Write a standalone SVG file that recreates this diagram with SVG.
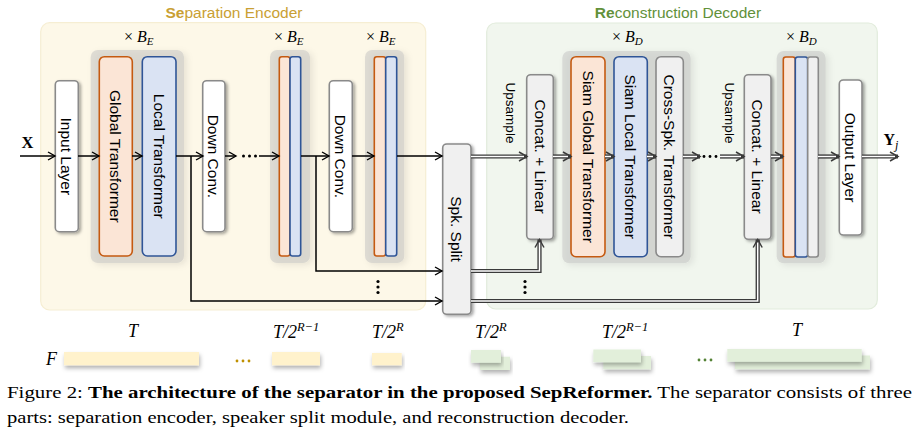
<svg xmlns="http://www.w3.org/2000/svg" width="919" height="440" viewBox="0 0 919 440">
<defs>
<style>
.lbl{font-family:"Liberation Sans",Arial,sans-serif;font-size:15.5px;fill:#000}
.ups{font-family:"Liberation Sans",Arial,sans-serif;font-size:13.5px;fill:#000}
.math{font-family:"Liberation Serif","Times New Roman",serif;font-style:italic;fill:#000}
.cap{font-family:"Liberation Serif","Times New Roman",serif;font-size:17px;fill:#000}
.wbox{fill:#fff;stroke:#8a8a8a;stroke-width:1.6}
.gbox{fill:#f0f0f0;stroke:#8a8a8a;stroke-width:1.6}
.obox{fill:#fbe5d6;stroke:#c55a11;stroke-width:1.6}
.bbox{fill:#dae3f3;stroke:#2f5597;stroke-width:1.6}
.blk{fill:#bdbdbd;fill-opacity:0.45}
.s{fill:none;stroke:#000;stroke-width:1.5}
.do{fill:none;stroke:#3a3a3a;stroke-width:4.2}
.di{fill:none;stroke:#fff;stroke-width:1.5}
.ebar{fill:#fff2cc}
.dbar{fill:#e2efda}
</style>
<filter id="sh" x="-40%" y="-10%" width="180%" height="130%"><feDropShadow dx="2" dy="1.5" stdDeviation="1.4" flood-color="#000" flood-opacity="0.35"/></filter>
<filter id="shg" x="-20%" y="-10%" width="140%" height="130%"><feDropShadow dx="3" dy="2" stdDeviation="3" flood-color="#000" flood-opacity="0.18"/></filter>
<filter id="shb" x="-10%" y="-40%" width="120%" height="220%"><feDropShadow dx="1" dy="3" stdDeviation="2" flood-color="#000" flood-opacity="0.3"/></filter>
<marker id="a1" markerUnits="userSpaceOnUse" markerWidth="12" markerHeight="12" refX="8" refY="5" orient="auto"><path d="M1,1 L8,5 L1,9" fill="none" stroke="#000" stroke-width="1.4"/></marker>
<marker id="a2" markerUnits="userSpaceOnUse" markerWidth="12" markerHeight="12" refX="9" refY="5.5" orient="auto"><path d="M1,1 L9,5.5 L1,10" fill="none" stroke="#3a3a3a" stroke-width="1.5"/></marker>
</defs>
<rect width="919" height="440" fill="#fff"/>

<!-- backgrounds -->
<g id="encoder-bg">
<rect x="40.7" y="22.7" width="385" height="287.3" rx="9" fill="#fdf8e8" stroke="#f6eed3" stroke-width="1.2"/>
<text x="234" y="18" text-anchor="middle" font-family="'Liberation Sans',Arial,sans-serif" font-size="15.5" fill="#c9a033"><tspan font-weight="bold">Se</tspan>paration Encoder</text>
</g>
<g id="decoder-bg">
<rect x="486.7" y="23" width="390.6" height="286" rx="9" fill="#f1f6ee" stroke="#e2ecdc" stroke-width="1.2"/>
<text x="678" y="18" text-anchor="middle" font-family="'Liberation Sans',Arial,sans-serif" font-size="15.5" fill="#62913a"><tspan font-weight="bold">Re</tspan>construction Decoder</text>
</g>

<!-- encoder nodes -->
<g id="input-layer"><rect class="wbox" filter="url(#sh)" x="55.3" y="80.7" width="23" height="151" rx="4"/><text class="lbl" transform="translate(66.8,156.3) rotate(90)" text-anchor="middle" dominant-baseline="central">Input Layer</text></g>

<g id="enc-block1">
<rect class="blk" filter="url(#shg)" x="90.7" y="50" width="93.3" height="213" rx="7"/>
<text x="124" y="42" class="math" font-size="16"><tspan font-style="normal">× </tspan>B<tspan font-size="11" dy="3">E</tspan></text>
<g id="global-transformer"><rect class="obox" x="99.3" y="56.7" width="33" height="199.3" rx="5"/><text class="lbl" transform="translate(115.8,156.3) rotate(90)" text-anchor="middle" dominant-baseline="central">Global Transformer</text></g>
<g id="local-transformer"><rect class="bbox" x="142.3" y="56.7" width="33.7" height="199.3" rx="5"/><text class="lbl" transform="translate(159.2,156.3) rotate(90)" text-anchor="middle" dominant-baseline="central">Local Transformer</text></g>
</g>

<g id="down-conv1"><rect class="wbox" filter="url(#sh)" x="202.7" y="80.7" width="22.3" height="151" rx="4"/><text class="lbl" transform="translate(213.9,156.3) rotate(90)" text-anchor="middle" dominant-baseline="central">Down Conv.</text></g>

<g id="enc-block2">
<rect class="blk" filter="url(#shg)" x="270" y="50" width="40" height="213" rx="7"/>
<text x="274" y="42" class="math" font-size="16"><tspan font-style="normal">× </tspan>B<tspan font-size="11" dy="3">E</tspan></text>
<rect class="obox" x="279.3" y="56.7" width="10.7" height="199.3" rx="2.5"/>
<rect class="bbox" x="290" y="56.7" width="10.7" height="199.3" rx="2.5"/>
</g>

<g id="down-conv2"><rect class="wbox" filter="url(#sh)" x="329.3" y="80.7" width="23" height="151" rx="4"/><text class="lbl" transform="translate(340.8,156.3) rotate(90)" text-anchor="middle" dominant-baseline="central">Down Conv.</text></g>

<g id="enc-block3">
<rect class="blk" filter="url(#shg)" x="365" y="50" width="39.3" height="213" rx="7"/>
<text x="366" y="42" class="math" font-size="16"><tspan font-style="normal">× </tspan>B<tspan font-size="11" dy="3">E</tspan></text>
<rect class="obox" x="374.3" y="56.7" width="11.4" height="199.3" rx="2.5"/>
<rect class="bbox" x="385.7" y="56.7" width="11" height="199.3" rx="2.5"/>
</g>

<g id="spk-split"><rect class="gbox" filter="url(#sh)" x="442.7" y="144" width="28.3" height="170.3" rx="4"/><text class="lbl" transform="translate(456.9,229) rotate(90)" text-anchor="middle" dominant-baseline="central">Spk. Split</text></g>

<!-- decoder nodes -->
<g id="concat1"><rect class="gbox" filter="url(#sh)" x="526.7" y="74.7" width="26.6" height="164.6" rx="4"/><text class="lbl" transform="translate(540,156.5) rotate(90)" text-anchor="middle" dominant-baseline="central">Concat. + Linear</text>
<text class="ups" transform="translate(510,113) rotate(90)" text-anchor="middle" dominant-baseline="central">Upsample</text></g>

<g id="dec-block1">
<rect class="blk" filter="url(#shg)" x="562.3" y="51" width="128.4" height="212.3" rx="7"/>
<text x="612" y="42" class="math" font-size="16"><tspan font-style="normal">× </tspan>B<tspan font-size="11" dy="3">D</tspan></text>
<g id="siam-global"><rect class="obox" x="571" y="56.7" width="34" height="200" rx="5"/><text class="lbl" transform="translate(588,156.7) rotate(90)" text-anchor="middle" dominant-baseline="central">Siam Global Transformer</text></g>
<g id="siam-local"><rect class="bbox" x="614" y="56.7" width="33.3" height="200" rx="5"/><text class="lbl" transform="translate(630.7,156.7) rotate(90)" text-anchor="middle" dominant-baseline="central">Siam Local Transformer</text></g>
<g id="cross-spk"><rect class="gbox" x="656" y="56.7" width="27.3" height="200" rx="5"/><text class="lbl" transform="translate(669.7,156.7) rotate(90)" text-anchor="middle" dominant-baseline="central">Cross-Spk. Transformer</text></g>
</g>

<g id="concat2"><rect class="gbox" filter="url(#sh)" x="744.3" y="74.7" width="26.7" height="164.6" rx="4"/><text class="lbl" transform="translate(757.7,156.5) rotate(90)" text-anchor="middle" dominant-baseline="central">Concat. + Linear</text>
<text class="ups" transform="translate(729,113) rotate(90)" text-anchor="middle" dominant-baseline="central">Upsample</text></g>

<g id="dec-block2">
<rect class="blk" filter="url(#shg)" x="776.7" y="51" width="49" height="212.3" rx="7"/>
<text x="786" y="42" class="math" font-size="16"><tspan font-style="normal">× </tspan>B<tspan font-size="11" dy="3">D</tspan></text>
<rect class="obox" x="783.3" y="57" width="12" height="200" rx="2.5"/>
<rect class="bbox" x="795.3" y="57" width="12.4" height="200" rx="2.5"/>
<rect class="gbox" x="807.7" y="57" width="10.6" height="200" rx="2.5"/>
</g>

<g id="output-layer"><rect class="wbox" filter="url(#sh)" x="839.3" y="80" width="22.7" height="155" rx="4"/><text class="lbl" transform="translate(850.7,157.5) rotate(90)" text-anchor="middle" dominant-baseline="central">Output Layer</text></g>

<!-- io labels -->
<text x="21.5" y="147.5" font-family="'Liberation Serif','Times New Roman',serif" font-weight="bold" font-size="16.5">X</text>
<text x="883.5" y="145" font-family="'Liberation Serif','Times New Roman',serif" font-weight="bold" font-size="16">Y<tspan font-weight="normal" font-style="italic" font-size="12" dy="4">j</tspan></text>

<!-- connectors -->
<g id="connectors">
<path class="s" marker-end="url(#a1)" d="M20,156 H55"/>
<path class="s" marker-end="url(#a1)" d="M78,156 H99"/>
<path class="s" marker-end="url(#a1)" d="M132,156 H142"/>
<path class="s" marker-end="url(#a1)" d="M176,156 H203"/>
<path class="s" marker-end="url(#a1)" d="M225,156 H236"/>
<path class="s" marker-end="url(#a1)" d="M259,156 H279"/>
<path class="s" marker-end="url(#a1)" d="M301,156 H329"/>
<path class="s" marker-end="url(#a1)" d="M352,156 H374"/>
<path class="s" marker-end="url(#a1)" d="M397,156 H442"/>
<path class="s" marker-end="url(#a1)" d="M191,156 V301 H442"/>
<path class="s" marker-end="url(#a1)" d="M316,156 V271 H442"/>
<g fill="#000">
<circle cx="243.5" cy="156" r="1.5"/><circle cx="249.5" cy="156" r="1.5"/><circle cx="255.5" cy="156" r="1.5"/>
<circle cx="378" cy="281.5" r="1.6"/><circle cx="378" cy="287" r="1.6"/><circle cx="378" cy="292.5" r="1.6"/>
<circle cx="525" cy="281.5" r="1.6"/><circle cx="525" cy="287" r="1.6"/><circle cx="525" cy="292.5" r="1.6"/>
<circle cx="704" cy="156.5" r="1.4"/><circle cx="710" cy="156.5" r="1.4"/><circle cx="716" cy="156.5" r="1.4"/>
</g>
<path class="do" marker-end="url(#a2)" d="M471,156.5 H527"/><path class="di" d="M471,156.5 H524"/>
<path class="do" marker-end="url(#a2)" d="M553,156.5 H571"/><path class="di" d="M553,156.5 H568"/>
<path class="do" marker-end="url(#a2)" d="M605,156.5 H614"/><path class="di" d="M605,156.5 H611"/>
<path class="do" marker-end="url(#a2)" d="M647,156.5 H656"/><path class="di" d="M647,156.5 H653"/>
<path class="do" marker-end="url(#a2)" d="M683,156.5 H700"/><path class="di" d="M683,156.5 H697"/>
<path class="do" marker-end="url(#a2)" d="M720,156.5 H744"/><path class="di" d="M720,156.5 H741"/>
<path class="do" marker-end="url(#a2)" d="M771,156.5 H783"/><path class="di" d="M771,156.5 H780"/>
<path class="do" marker-end="url(#a2)" d="M818,156.5 H839"/><path class="di" d="M818,156.5 H836"/>
<path class="do" marker-end="url(#a2)" d="M862,156.5 H898"/><path class="di" d="M862,156.5 H895"/>
<path class="do" marker-end="url(#a2)" d="M471,271 H539.5 V239.5"/><path class="di" d="M471,271 H539.5 V242.5"/>
<path class="do" marker-end="url(#a2)" d="M471,301 H757.7 V239.5"/><path class="di" d="M471,301 H757.7 V242.5"/>
</g>

<!-- bottom dimension bars -->
<g id="dims">
<text class="math" font-size="18" x="133" y="337" text-anchor="middle">T</text>
<text class="math" font-size="18" x="273" y="338">T/2<tspan font-size="12.5" dy="-7">R−1</tspan></text>
<text class="math" font-size="18" x="372" y="338">T/2<tspan font-size="12.5" dy="-7">R</tspan></text>
<text class="math" font-size="18" x="475" y="338">T/2<tspan font-size="12.5" dy="-7">R</tspan></text>
<text class="math" font-size="18" x="602" y="338">T/2<tspan font-size="12.5" dy="-7">R−1</tspan></text>
<text class="math" font-size="18" x="797" y="336" text-anchor="middle">T</text>
<text class="math" font-size="18" x="46" y="364.5">F</text>
<rect class="ebar" filter="url(#shb)" x="64" y="352" width="135" height="13.3"/>
<rect class="ebar" filter="url(#shb)" x="272" y="352" width="48" height="13.3"/>
<rect class="ebar" filter="url(#shb)" x="372" y="353" width="29.7" height="12.3"/>
<g fill="#bf9000"><circle cx="237" cy="361" r="1.4"/><circle cx="243" cy="361" r="1.4"/><circle cx="249" cy="361" r="1.4"/></g>
<rect class="dbar" filter="url(#shb)" x="480" y="356.7" width="30" height="13.3"/>
<rect class="dbar" filter="url(#shb)" x="471" y="350" width="30" height="12.7"/>
<rect class="dbar" filter="url(#shb)" x="603.3" y="356" width="47.7" height="13.3"/>
<rect class="dbar" filter="url(#shb)" x="593.3" y="349.5" width="47.7" height="12.7"/>
<rect class="dbar" filter="url(#shb)" x="735" y="355.5" width="135" height="13.8"/>
<rect class="dbar" filter="url(#shb)" x="727.3" y="349" width="134.4" height="12.7"/>
<g fill="#548235"><circle cx="699" cy="360" r="1.4"/><circle cx="705" cy="360" r="1.4"/><circle cx="711" cy="360" r="1.4"/></g>
</g>

<!-- caption -->
<text class="cap" x="7" y="398" textLength="905" lengthAdjust="spacingAndGlyphs">Figure 2: <tspan font-weight="bold">The architecture of the separator in the proposed SepReformer.</tspan> The separator consists of three</text>
<text class="cap" x="7" y="423" textLength="622" lengthAdjust="spacingAndGlyphs">parts: separation encoder, speaker split module, and reconstruction decoder.</text>
</svg>
